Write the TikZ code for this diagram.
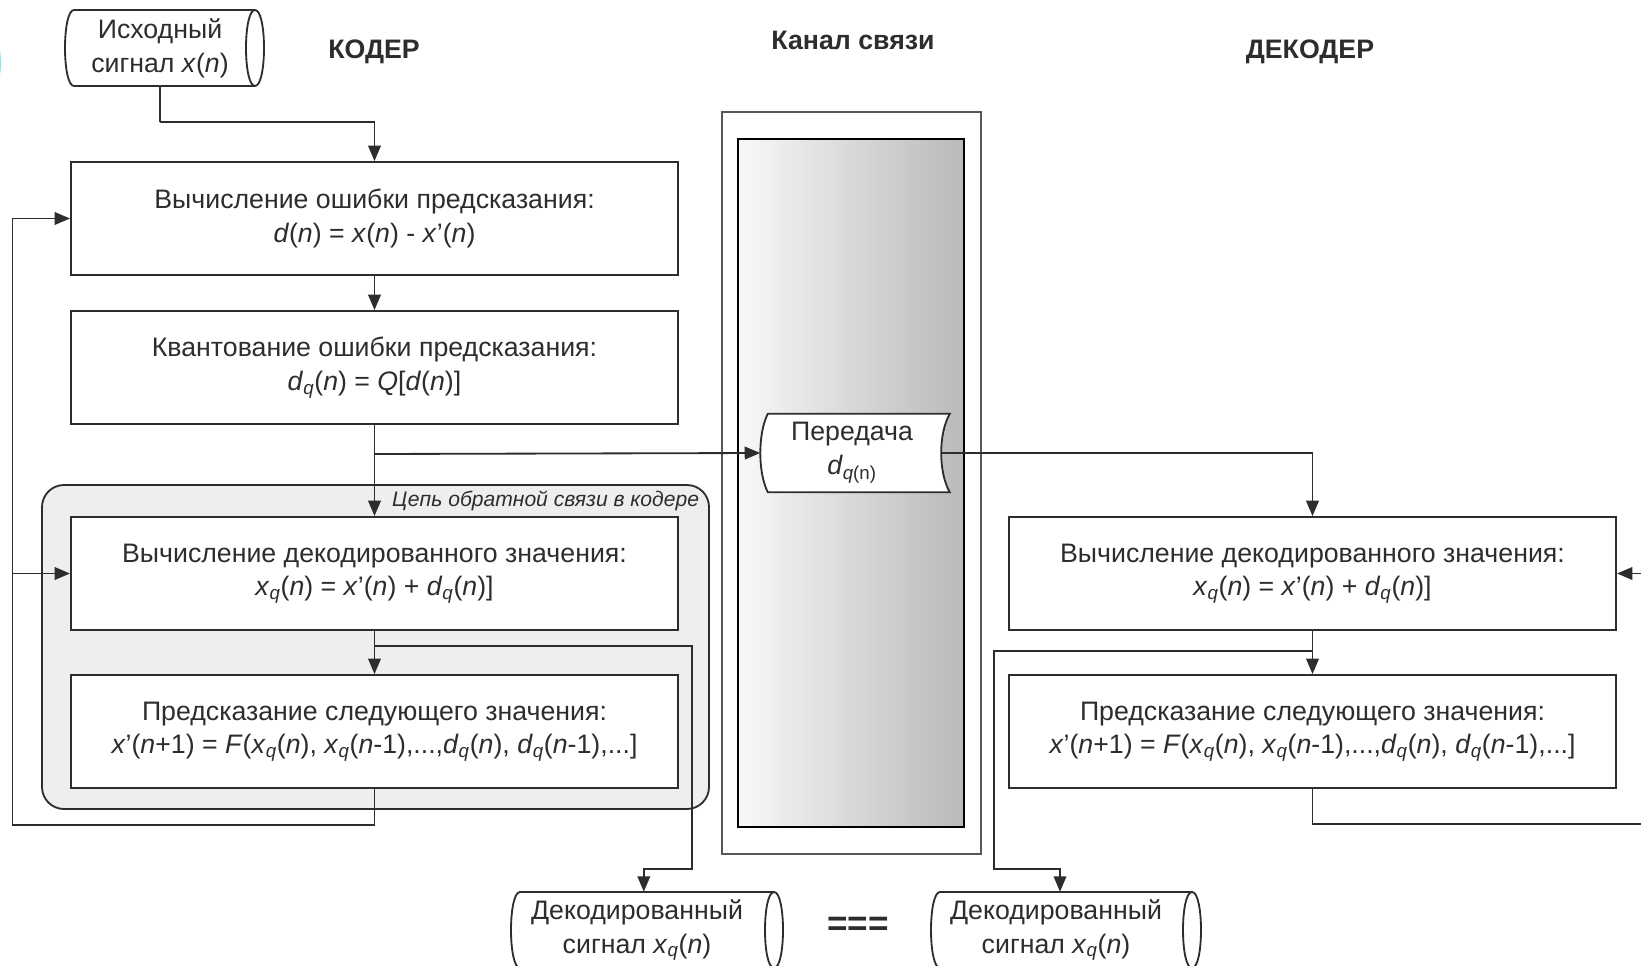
\documentclass[tikz,border=0pt]{standalone}
\usepackage{fontspec}
\setmainfont{Liberation Sans}
\usetikzlibrary{arrows.meta}

\definecolor{ink}{RGB}{45,45,45}
\definecolor{shell}{RGB}{238,238,238}
\definecolor{wave}{RGB}{170,222,222}
\newcommand{\vq}[1]{\textit{#1}\textsubscript{\textit{q}}}
\newcommand{\nn}{\textit{n}}
% drum outline: left, right, top, bottom
\newcommand{\drum}[4]{%
  \draw[ink, line width=1.3pt, fill=white] (#2-9,#3) -- (#1+9,#3) .. controls (#1-3,#3) and (#1-3,#4) .. (#1+9,#4)
    -- (#2-9,#4) .. controls (#2+3,#4) and (#2+3,#3) .. (#2-9,#3) -- cycle;
  \draw[ink, line width=1.3pt] (#2-9,#3) .. controls (#2-21,#3) and (#2-21,#4) .. (#2-9,#4);}

\tikzset{
  txt/.style={align=center, text=ink, font=\fontsize{19}{24}\selectfont},
  blk/.style={txt, draw=ink, fill=white, line width=1.3pt, minimum width=15.175cm,
    minimum height=2.825cm},
  wire/.style={draw=ink, line width=1.3pt},
  arr/.style={wire, -{Triangle[length=11pt,width=9pt]}},
  ttl/.style={text=ink, font=\fontsize{19}{22}\selectfont\bfseries}
}

\begin{document}
\begin{tikzpicture}[x=0.025cm, y=-0.025cm]
        \useasboundingbox (0,0) rectangle (1641,965);
        \clip (0,0) rectangle (1641,965);
        \draw[wave, line width=0.8pt] (-12,30) .. controls (5,48) and (5,78) .. (-12,96);

        % titles
        \node[ttl] (coder) at (374,52) {КОДЕР};
        \node[ttl] (channel) at (853,40) {Канал связи};
        \node[ttl] (decoder) at (1310,52) {ДЕКОДЕР};

        % feedback area and channel
        \draw[ink, line width=1.3pt, fill=shell, rounded corners=0.55cm] (42,485) rectangle (709,809);
        \node[text=ink, anchor=east, font=\fontsize{15}{17}\selectfont\itshape] (looplbl) at (704,501) {Цепь обратной связи в кодере};
        \draw[ink!80, line width=1.3pt] (722,112) rectangle (981,854);
        \shade[left color=gray!5, right color=gray!55] (738,139) rectangle (964,827);
        \draw[black, line width=1.3pt] (738,139) rectangle (964,827);

        % coder
        \drum{65}{264}{10}{86}
        \node[txt, minimum width=4.975cm, minimum height=1.9cm] (src) at (160,48) {Исходный\\сигнал \textit{x}(\nn)};
        \node[blk] (err) at (374.5,218.5) {Вычисление ошибки предсказания:\\\textit{d}(\nn) = \textit{x}(\nn) - \textit{x}'(\nn)};
        \node[blk] (quant) at (374.5,367.5) {Квантование ошибки предсказания:\\\vq{d}(\nn) = \textit{Q}[\textit{d}(\nn)]};
        \node[blk] (dec) at (374.5,573.5) {Вычисление декодированного значения:\\\vq{x}(\nn) = \textit{x}'(\nn) + \vq{d}(\nn)]};
        \node[blk] (pred) at (374.5,731.5) {Предсказание следующего значения:\\\textit{x}'(\nn+1) = \textit{F}(\vq{x}(\nn), \vq{x}(\nn-1),...,\vq{d}(\nn), \vq{d}(\nn-1),...]};

        % transmission
        \node[minimum width=4.725cm, minimum height=1.95cm] (tx) at (855,453) {};
        \draw[ink, line width=1.3pt, fill=white] ([xshift=0.19cm]tx.north west) -- (tx.north east)
          .. controls +(-11.5,20) and +(-11.5,-20) .. (tx.south east) -- ([xshift=0.19cm]tx.south west)
          .. controls +(-10,-20) and +(-10,20) .. ([xshift=0.19cm]tx.north west) -- cycle;
        \node[txt] (txl) at (852,453) {Передача\\\textit{d}\textsubscript{\textit{q}(n)}};

        % decoder
        \node[blk] (rdec) at (1312.5,573.5) {Вычисление декодированного значения:\\\vq{x}(\nn) = \textit{x}'(\nn) + \vq{d}(\nn)]};
        \node[blk] (rpred) at (1312.5,731.5) {Предсказание следующего значения:\\\textit{x}'(\nn+1) = \textit{F}(\vq{x}(\nn), \vq{x}(\nn-1),...,\vq{d}(\nn), \vq{d}(\nn-1),...]};

        % outputs
        \drum{511}{783}{892}{968}
        \drum{931}{1201}{892}{968}
        \node[txt, minimum width=6.35cm, minimum height=1.9cm] (outl) at (637,930) {Декодированный\\сигнал \vq{x}(\nn)};
        \node[txt, minimum width=6.3cm, minimum height=1.9cm] (outr) at (1056,930) {Декодированный\\сигнал \vq{x}(\nn)};
        \node[ttl, font=\fontsize{25}{25}\selectfont\bfseries] (eq) at (858,926) {===};

        % connectors
        \coordinate (k1) at (160,122);
        \coordinate (j1) at (374.5,454);
        \coordinate (j2) at (374.5,646);
        \coordinate (k2) at (692,869);
        \coordinate (k3) at (12.5,825);
        \coordinate (j3) at (1312.5,651);
        \coordinate (k4) at (994,869);
        \coordinate (k5) at (1660,824);
        \draw[wire] (src.south) -- (k1);
        \draw[arr] (k1) -| (err.north);
        \draw[arr] (err) -- (quant);
        \draw[arr] (quant) -- (dec);
        \draw[arr] (j1) -- (tx.west);
        \draw[arr] ([xshift=-0.215cm]tx.east) -| (rdec.north);
        \draw[arr] (dec) -- (pred);
        \draw[arr] (j2) -| (k2) -| ([xshift=0.17cm]outl.north);
        \draw[arr] (pred.south) |- (k3) |- (err.west);
        \draw[arr] (k3 |- dec.west) -- (dec.west);
        \draw[arr] (rdec) -- (rpred);
        \draw[arr] (j3) -| (k4) -| ([xshift=0.1cm]outr.north);
        \draw[arr] (rpred.south) |- (k5) |- (rdec.east);
    \end{tikzpicture}
\end{document}
